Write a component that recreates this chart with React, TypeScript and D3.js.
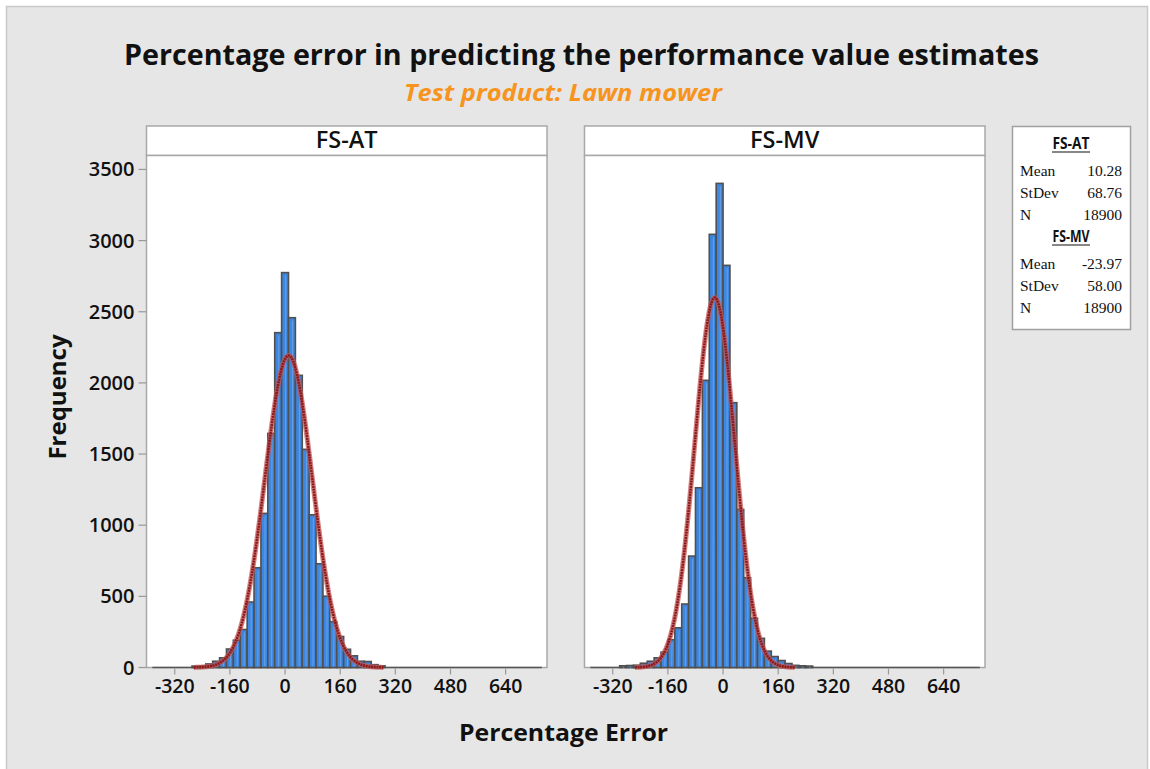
import React from "react";
import * as d3 from "d3";

const W = 1150;
const H = 769;

// histogram data (bin width 20)
const binWidth = 20;
const atBinMids = [-260, -240, -220, -200, -180, -160, -140, -120, -100, -80, -60, -40, -20, 0, 20, 40, 60, 80, 100, 120, 140, 160, 180, 200, 220, 240, 260, 280];
const atCounts = [10, 12, 25, 44, 68, 130, 192, 267, 460, 701, 1083, 1645, 2353, 2775, 2458, 2053, 1533, 1073, 729, 501, 322, 218, 128, 82, 44, 42, 20, 12];
const mvBinMids = [-290, -270, -250, -230, -210, -190, -170, -150, -130, -110, -90, -70, -50, -30, -10, 10, 30, 50, 70, 90, 110, 130, 150, 170, 190, 210, 230, 250];
const mvCounts = [12, 14, 16, 30, 44, 68, 108, 195, 279, 446, 783, 1263, 2018, 3044, 3402, 2826, 1861, 1111, 631, 346, 205, 115, 77, 49, 28, 15, 12, 10];

const panelNames = ["FS-AT", "FS-MV"];
const panelMeans = [10.28, -23.97];
const panelStDevs = [68.76, 58.0];
const panelNs = [18900, 18900];
const meanLabels = ["10.28", "-23.97"];
const stdevLabels = ["68.76", "58.00"];
const nLabels = ["18900", "18900"];

const xTicks = [-320, -160, 0, 160, 320, 480, 640];
const yTicks = [0, 500, 1000, 1500, 2000, 2500, 3000, 3500];

const SANS = "'Open Sans', 'Noto Sans', sans-serif";
const SERIF = "'Liberation Serif', 'DejaVu Serif', serif";

const plotTop = 155.5;
const plotBottom = 667.5;
const headerTop = 126;
const panelX = [
  [146.5, 547],
  [584.5, 985],
];

const y = d3.scaleLinear().domain([0, 3598]).range([plotBottom, plotTop]);

function Panel({ idx }: { idx: number }) {
  const [x0, x1] = panelX[idx];
  const x = d3.scaleLinear().domain([-402, 760]).range([x0, x1]);
  const mids = idx === 0 ? atBinMids : mvBinMids;
  const counts = idx === 0 ? atCounts : mvCounts;
  const mean = panelMeans[idx];
  const sd = panelStDevs[idx];
  const n = panelNs[idx];
  // fitted normal curve from the panel's mean / stdev / N
  const pts = d3.range(0, 201).map((i) => mean - 4 * sd + (8 * sd * i) / 200);
  const curve = d3
    .line<number>()
    .x((v) => x(v))
    .y((v) => y(((n * binWidth) / (sd * Math.sqrt(2 * Math.PI))) * Math.exp(-0.5 * ((v - mean) / sd) ** 2)))
    .curve(d3.curveBasis)(pts);

  return (
    <g>
      {/* header strip */}
      <rect x={x0} y={headerTop} width={x1 - x0} height={plotTop - headerTop} fill="#fff" stroke="#a8a8a8" strokeWidth={1.5} />
      <text x={(x0 + x1) / 2} y={148} textAnchor="middle" fontFamily={SANS} fontWeight={600} fontSize={23.5} fill="#111">
        {panelNames[idx]}
      </text>
      {/* plot area */}
      <rect x={x0} y={plotTop} width={x1 - x0} height={plotBottom - plotTop} fill="#fff" stroke="#a8a8a8" strokeWidth={1.5} />
      {/* empty-bin baseline */}
      <line x1={x(-385)} x2={x(745)} y1={y(0)} y2={y(0)} stroke="#555" strokeWidth={1.5} />
      {mids.map((m, i) => {
        const bx = x(m - binWidth / 2);
        const bw = x(m + binWidth / 2) - bx;
        return (
          <g key={m}>
            <rect x={bx} y={y(counts[i])} width={bw} height={y(0) - y(counts[i])} fill="#3d87e1" stroke="#505050" strokeWidth={1.6} />
            <line x1={bx + bw * 0.6} x2={bx + bw * 0.55} y1={y(counts[i]) + 3} y2={y(0) - 1} stroke="#8fbcf2" strokeWidth={0.8} opacity={0.6} />
          </g>
        );
      })}
      <path d={curve || ""} fill="none" stroke="#c65555" strokeWidth={5} opacity={0.75} />
      <path d={curve || ""} fill="none" stroke="#8a1a1a" strokeWidth={2.6} strokeDasharray="2 0.7" />
      {/* x ticks */}
      {xTicks.map((t) => (
        <g key={t}>
          <line x1={x(t)} x2={x(t)} y1={plotBottom + 1} y2={plotBottom + 7} stroke="#999" strokeWidth={1.2} />
          <text x={x(t)} y={693} textAnchor="middle" fontFamily={SANS} fontWeight={600} fontSize={19.5} fill="#111">
            {t}
          </text>
        </g>
      ))}
      {idx === 0 &&
        yTicks.map((t) => (
          <g key={t}>
            <line x1={x0 - 8} x2={x0} y1={y(t)} y2={y(t)} stroke="#999" strokeWidth={1.2} />
            <text x={x0 - 12} y={y(t) + 7} textAnchor="end" fontFamily={SANS} fontWeight={600} fontSize={20} fill="#111">
              {t}
            </text>
          </g>
        ))}
    </g>
  );
}

function Legend() {
  const lx = 1012.5;
  const ly = 126.5;
  const blocks = [0, 1];
  return (
    <g>
      <rect x={lx} y={ly} width={118} height={203} fill="#fff" stroke="#a0a0a0" strokeWidth={1.5} />
      {blocks.map((b) => {
        const top = b === 0 ? 149 : 242;
        return (
          <g key={b}>
            <text x={1071} y={top} textAnchor="middle" fontFamily={SANS} fontWeight={700} fontSize={16} textLength={37} lengthAdjust="spacingAndGlyphs" fill="#111">
              {panelNames[b]}
            </text>
            <line x1={1052} x2={1090} y1={top + 3} y2={top + 3} stroke="#111" strokeWidth={1.2} />
            {[
              ["Mean", meanLabels[b]],
              ["StDev", stdevLabels[b]],
              ["N", nLabels[b]],
            ].map(([k, v], i) => (
              <g key={k} fontFamily={SERIF} fontSize={15.5} fill="#111">
                <text x={1020} y={top + 27 + i * 22}>{k}</text>
                <text x={1122} y={top + 27 + i * 22} textAnchor="end">
                  {v}
                </text>
              </g>
            ))}
          </g>
        );
      })}
    </g>
  );
}

export default function App() {
  return (
    <svg width={W} height={H} style={{ position: "absolute", left: 0, top: 0 }}>
      <rect x={0} y={0} width={W} height={H} fill="#fff" />
      <rect x={6.5} y={6.5} width={1141} height={780} fill="#e6e6e6" stroke="#c9c9c9" strokeWidth={1.5} />
      <text x={581.5} y={65} textAnchor="middle" fontFamily={SANS} fontWeight={700} fontSize={28} textLength={915} lengthAdjust="spacingAndGlyphs" fill="#111">
        Percentage error in predicting the performance value estimates
      </text>
      <text x={563} y={101} textAnchor="middle" fontFamily={SANS} fontWeight={700} fontStyle="italic" fontSize={23} textLength={318} lengthAdjust="spacingAndGlyphs" fill="#f7941d">
        Test product: Lawn mower
      </text>
      <Panel idx={0} />
      <Panel idx={1} />
      <text transform="translate(66,397) rotate(-90)" textAnchor="middle" fontFamily={SANS} fontWeight={700} fontSize={24} fill="#111">
        Frequency
      </text>
      <text x={563.5} y={741} textAnchor="middle" fontFamily={SANS} fontWeight={700} fontSize={24} textLength={209} lengthAdjust="spacingAndGlyphs" fill="#111">
        Percentage Error
      </text>
      <Legend />
    </svg>
  );
}
